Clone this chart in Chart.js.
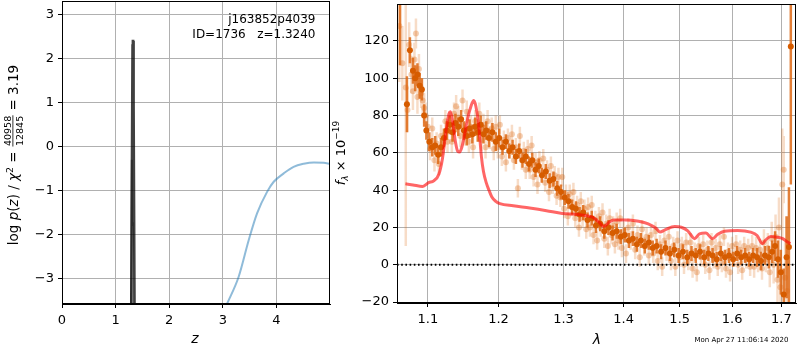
<!DOCTYPE html>
<html><head><meta charset="utf-8">
<script src="https://cdn.jsdelivr.net/npm/chart.js@4"></script>
<style>
html,body{margin:0;padding:0;background:#fff;}
#wrap{position:relative;width:800px;height:350px;overflow:hidden;background:#fff;}
#c1{position:absolute;left:0;top:0;}
#c2{position:absolute;left:330px;top:0;}
</style></head><body>
<div id="wrap"><canvas id="c1" width="340" height="350"></canvas><canvas id="c2" width="470" height="350"></canvas></div>
<script>
// ---------------- Left panel data: log p(z) ----------------
const zTicks = [0, 1, 2, 3, 4];
const pzTicks = [-3, -2, -1, 0, 1, 2, 3];
const pzDarkZ = [1.290, 1.315, 1.322, 1.328, 1.333, 1.340, 1.355];
const pzDarkV = [-4.0, 2.30, 2.40, 2.40, -1.80, 0.95, -4.0];
const pzGrayZ = [1.285, 1.300, 1.305, null, 1.318, 1.322, 1.326];
const pzGrayV = [-4.0, -0.30, -4.0, null, -4.0, -1.72, -4.0];
const chi2Z = [3.00, 3.078, 3.296, 3.483, 3.639, 3.826, 3.95, 4.137, 4.32, 4.51, 4.70, 4.88, 5.0];
const chi2V = [-3.80, -3.58, -2.96, -2.13, -1.52, -1.03, -0.80, -0.61, -0.46, -0.39, -0.36, -0.37, -0.39];

// ---------------- Right panel data: spectrum ----------------
const lamTicks = [1.1, 1.2, 1.3, 1.4, 1.5, 1.6, 1.7];
const fluxTicks = [-20, 0, 20, 40, 60, 80, 100, 120];
const lamMin = 1.059, lamMax = 1.731;

const darkLam = [1.063,1.072,1.076,1.080,1.083,1.086,1.089,1.092,1.095,1.098,1.102,1.106,1.110,1.114,1.118,1.122,1.126,1.130,1.134,1.138,
1.142,1.146,1.150,1.154,1.158,1.162,1.166,1.170,1.174,1.178,1.182,1.186,1.191,1.196,1.201,1.206,1.211,1.216,1.221,1.226,
1.231,1.236,1.241,1.246,1.251,1.256,1.261,1.266,1.272,1.278,1.284,1.290,1.296,1.302,1.308,1.314,1.320,1.326,1.332,1.339,
1.346,1.353,1.360,1.367,1.374,1.381,1.388,1.395,1.402,1.409,1.416,1.423,1.430,1.437,1.444,1.451,1.458,1.466,1.474,1.482,
1.490,1.498,1.506,1.514,1.522,1.530,1.538,1.546,1.554,1.562,1.570,1.578,1.586,1.594,1.602,1.610,1.618,1.626,1.634,1.642,
1.650,1.658,1.666,1.674,1.681,1.687,1.693,1.699,1.705,1.711,1.716,1.720];
const darkFlux = [150,86,115,104,100,102,96,94,80,72,66,63,64,59,63,68,72,75,71,76,
74,78,72,69,73,70,74,71,75,70,72,68,71,66,68,63,66,61,63,58,
61,56,58,54,56,51,53,48,50,45,46,41,39,36,34,31,30,27,28,24,
25,21,22,18,20,17,18,15,16,13,14,11,13,10,12,9,10,7,9,6,
8,5,7,4,6,5,7,4,6,5,3,6,4,5,3,6,4,5,3,5,
4,2,5,4,7,10,3,-4,-16,4,9.5,117];
const darkErr = [43,15,7,7,7,6,7,6,6,5,5,5,5,5,5,5,5,5,5,5,
5,5,5,5,5,5,5,5,5,5,5,5,5,5,5,4,4,4,4,4,
4,4,4,4,4,4,4,4,4,4,4,4,4,4,4,4,4,4,4,4,
4,4,4,4,4,4,4,4,4,4,4,4,4,4,4,4,4,4,4,4,
4,4,4,4,4,4,4,4,4,4,4,4,4,4,4,4,4,4,4,4,
5,5,5,6,6,8,10,12,14,22,32,74];

const faintLam = [1.062,1.066,1.0705,1.0728,1.075,1.078,1.080,1.082,1.084,1.086,1.088,1.091,1.093,1.095,1.097,
1.100,1.103,1.106,1.109,1.112,1.115,1.118,1.121,1.124,1.127,1.130,1.133,1.136,1.139,1.142,1.145,1.148,1.151,1.154,1.157,
1.160,1.163,1.166,1.169,1.172,1.175,1.178,1.181,1.184,1.187,1.190,1.193,1.196,1.199,1.202,1.205,1.208,1.211,1.214,1.217,
1.220,1.223,1.226,1.229,1.232,1.235,1.238,1.241,1.244,1.247,1.250,1.253,1.256,1.259,1.262,1.265,1.268,1.271,1.274,1.277,
1.280,1.283,1.286,1.289,1.292,1.295,1.298,1.301,1.304,1.307,1.310,1.313,1.316,1.319,1.322,1.325,1.328,1.331,1.334,1.337,
1.340,1.343,1.346,1.349,1.352,1.355,1.358,1.361,1.364,1.367,1.370,1.373,1.376,1.379,1.382,1.385,1.388,1.391,1.394,1.397,
1.400,1.404,1.408,1.412,1.416,1.420,1.424,1.428,1.432,1.436,1.440,1.444,1.448,1.452,1.456,1.460,1.464,1.468,1.472,1.476,
1.480,1.484,1.488,1.492,1.496,1.500,1.504,1.508,1.512,1.516,1.520,1.524,1.528,1.532,1.536,1.540,1.544,1.548,1.552,1.556,
1.560,1.564,1.568,1.572,1.576,1.580,1.584,1.588,1.592,1.596,1.600,1.604,1.608,1.612,1.616,1.620,1.624,1.628,1.632,1.636,
1.640,1.644,1.648,1.652,1.656,1.660,1.664,1.668,1.672,1.676,1.680,1.684,1.688,1.692,1.695,1.698,1.702,1.705,1.708,1.712];
const faintFlux = [128,108,95,83,118,102,93,110,124,90,105,92,88,84,80,
74,62,73,56,65,54,69,65,77,66,76,66,81,85,79,69,88,70,82,66,
74,63,77,72,81,67,75,63,77,68,73,62,74,63,75,58,67,55,68,62,
70,56,63,41,69,56,61,51,62,51,64,47,55,43,56,49,57,44,51,39,
53,43,48,37,47,36,47,30,38,26,38,31,39,25,32,20,34,25,30,19,
31,20,32,16,24,13,26,20,28,14,22,10,25,16,21,11,23,13,25,9,
18,6,20,13,22,8,16,4,19,10,15,5,16,6,18,2,11,-1,13,7,
15,2,10,-1,13,4,10,0,12,2,12,-2,7,-4,10,4,11,0,8,-3,
12,3,9,-1,11,1,15,-2,7,-4,10,4,11,0,8,-3,10,3,9,-1,
10,-1,9,2,8,-2,12,3,9,-4,14,0,15,-8,20,-12,43,51,-7,-14];
const faintErr = [30,20,85,12,12,10,10,9,8,9,8,8,8,8,7,
6,6,6,6,6,6,6,6,6,6,6,6,6,6,6,6,6,6,6,6,
6,6,6,6,6,6,6,6,6,6,6,6,6,6,5,5,5,5,5,5,
5,5,5,5,5,5,5,5,5,5,5,5,5,5,5,5,5,5,5,5,
5,5,5,5,5,5,5,5,5,5,5,5,5,5,5,5,5,5,5,5,
5,5,5,5,5,5,5,5,5,5,5,5,5,5,5,5,5,5,5,5,
5,5,5,5,5,5,5,5,5,5,5,5,5,5,5,5,5,5,5,5,
5,5,5,5,5,5,5,5,5,5,5,5,5,5,5,5,5,5,5,5,
5,5,5,5,5,5,5,5,5,5,5,5,5,5,5,5,5,5,5,5,
6,6,6,6,6,6,7,7,8,8,9,10,12,14,16,18,30,18,20,25];

const modelLam = [1.070,1.080,1.093,1.101,1.108,1.115,1.120,1.125,1.129,1.131,1.134,1.138,1.141,1.144,1.147,1.151,1.155,1.160,1.164,1.167,
1.171,1.175,1.178,1.182,1.186,1.190,1.196,1.202,1.222,1.247,1.273,1.298,1.325,1.342,1.350,1.358,1.366,1.375,1.383,1.403,
1.426,1.443,1.458,1.464,1.473,1.491,1.503,1.515,1.528,1.537,1.549,1.562,1.572,1.585,1.611,1.637,1.650,1.661,1.668,1.678,
1.692,1.703,1.713,1.719];
const modelFlux = [43.4,42.8,42.0,44.0,45.0,48.5,57,72,81,82,77,66,61,60.5,63,70,78,85,88,85,
75,58,50,44,40,36.5,34,32.8,31.6,30.4,29,27.5,26.9,26,25,22.8,20.5,22.8,24,24,
23.3,21.9,19.3,17.5,18.7,20.5,20.1,18.2,14,16.6,17,14,16.3,18,18.4,17.5,15.7,11.3,13.4,15.2,
14.8,14,12.2,11.3];

// ---------------- helpers ----------------
const FONT = '"DejaVu Sans", sans-serif';
function pts(xs, ys) { return xs.map((x, i) => (x === null ? {x: NaN, y: null} : {x: x, y: ys[i]})); }
function errSegs(xs, ys, es) {
  const out = [];
  xs.forEach((x, i) => { out.push({x: x, y: ys[i] - es[i]}); out.push({x: x, y: ys[i] + es[i]}); out.push({x: x, y: null}); });
  return out;
}
function fmtNum(v) { return v < 0 ? '\u2212' + Math.abs(v) : String(v); }
function fixAxisY(w) { return function (s) { s.width = w; s.paddingTop = 0; s.paddingBottom = 0; s.paddingLeft = 0; s.paddingRight = 0; }; }
function fixAxisX(h) { return function (s) { s.height = h; s.paddingTop = 0; s.paddingBottom = 0; s.paddingLeft = 0; s.paddingRight = 0; }; }
function setTicks(list) { return function (s) { s.ticks = list.map(v => ({value: v})); }; }

function drawRuns(ctx, runs, cx, cy, rotate) {
  ctx.save();
  ctx.translate(cx, cy);
  if (rotate) ctx.rotate(-Math.PI / 2);
  let total = 0;
  runs.forEach(r => {
    ctx.font = r.font;
    if (r.num !== undefined) r.w = Math.max(ctx.measureText(r.num).width, ctx.measureText(r.den).width) + 2;
    else r.w = ctx.measureText(r.t).width;
    total += r.w;
  });
  let x = -total / 2;
  const base = 4.5;
  ctx.fillStyle = '#000';
  ctx.textBaseline = 'alphabetic';
  runs.forEach(r => {
    ctx.font = r.font;
    if (r.num !== undefined) {
      ctx.textAlign = 'center';
      ctx.fillText(r.num, x + r.w / 2, base - 6.5);
      ctx.fillText(r.den, x + r.w / 2, base + 5.5);
      ctx.fillRect(x + 0.5, base - 5, r.w - 1, 0.8);
      ctx.textAlign = 'left';
    } else {
      ctx.textAlign = 'left';
      ctx.fillText(r.t, x, base + (r.dy || 0));
    }
    x += r.w;
  });
  ctx.restore();
}

const framePlugin = {
  id: 'frame',
  afterDraw(chart) {
    const a = chart.chartArea, ctx = chart.ctx;
    ctx.save();
    ctx.strokeStyle = '#000';
    ctx.lineWidth = 1;
    ctx.strokeRect(Math.round(a.left) + 0.5, Math.round(a.top) + 0.5, Math.round(a.right - a.left) - 1, Math.round(a.bottom - a.top) - 1);
    ctx.restore();
  }
};

const gridOpts = {color: '#b0b0b0', lineWidth: 1, tickLength: 4, tickColor: '#000', tickWidth: 1, drawTicks: true};
const tickFont = {family: FONT, size: 13};

// ---------------- Left chart ----------------
const leftLabels = {
  id: 'leftLabels',
  afterDraw(chart) {
    const ctx = chart.ctx;
    ctx.save();
    ctx.fillStyle = '#000';
    ctx.font = '12px ' + FONT;
    ctx.textAlign = 'right';
    ctx.textBaseline = 'middle';
    ctx.fillText('j163852p4039', 315.5, 20);
    ctx.fillText('ID=1736   z=1.3240', 315.5, 35);
    ctx.textAlign = 'center';
    ctx.font = 'italic 14px ' + FONT;
    ctx.fillText('z', 195, 339);
    ctx.restore();
    const R = '13.5px ' + FONT, I = 'italic 13.5px ' + FONT, S = '9.5px ' + FONT;
    drawRuns(ctx, [
      {t: 'log ', font: R}, {t: 'p', font: I}, {t: '(', font: R}, {t: 'z', font: I}, {t: ') / ', font: R},
      {t: '\u03c7', font: I}, {t: '2', font: S, dy: -5}, {t: ' = ', font: R},
      {num: '40958', den: '12845', font: S}, {t: ' = 3.19', font: R}
    ], 13, 155, true);
  }
};

new Chart(document.getElementById('c1'), {
  type: 'scatter',
  data: {
    datasets: [
      {data: pts(pzDarkZ, pzDarkV), showLine: true, borderColor: 'rgba(0,0,0,0.75)', borderWidth: 2.5, pointRadius: 0, spanGaps: false, order: 1, clip: 0},
      {data: pts(pzGrayZ, pzGrayV), showLine: true, borderColor: 'rgba(0,0,0,0.3)', borderWidth: 2, pointRadius: 0, spanGaps: false, order: 2, clip: 0},
      {data: pts(chi2Z, chi2V), showLine: true, borderColor: 'rgba(31,119,180,0.5)', borderWidth: 2, pointRadius: 0, tension: 0.4, cubicInterpolationMode: 'monotone', order: 3, clip: 0}
    ]
  },
  options: {
    responsive: false, animation: false, devicePixelRatio: 1,
    layout: {padding: {left: 0, right: 10, top: 1, bottom: 0}},
    plugins: {legend: {display: false}, tooltip: {enabled: false}},
    events: [],
    scales: {
      x: {type: 'linear', min: 0, max: 5.0, grid: gridOpts, border: {display: true, color: '#000', width: 1},
          ticks: {font: tickFont, color: '#000', padding: 5, maxRotation: 0, callback: v => fmtNum(v)},
          afterBuildTicks: setTicks(zTicks), afterFit: fixAxisX(46)},
      y: {type: 'linear', min: -3.58, max: 3.31, grid: gridOpts, border: {display: true, color: '#000', width: 1},
          ticks: {font: tickFont, color: '#000', padding: 4, callback: v => fmtNum(v)},
          afterBuildTicks: setTicks(pzTicks), afterFit: fixAxisY(62)}
    }
  },
  plugins: [framePlugin, leftLabels]
});

// ---------------- Right chart ----------------
const rightLabels = {
  id: 'rightLabels',
  afterDraw(chart) {
    const ctx = chart.ctx;
    ctx.save();
    ctx.fillStyle = '#000';
    ctx.textAlign = 'center';
    ctx.textBaseline = 'middle';
    ctx.font = 'italic 14px ' + FONT;
    ctx.fillText('\u03bb', 597 - 330, 340);
    ctx.font = '7px ' + FONT;
    ctx.fillText('Mon Apr 27 11:06:14 2020', 741.5 - 330, 340);
    ctx.restore();
    const R = '13px ' + FONT, I = 'italic 13px ' + FONT, S = '9px ' + FONT, SI = 'italic 9px ' + FONT;
    drawRuns(ctx, [
      {t: 'f', font: I}, {t: '\u03bb', font: SI, dy: 3}, {t: ' \u00d7 10', font: R}, {t: '\u221219', font: S, dy: -6}
    ], 340 - 330, 153, true);
  }
};

new Chart(document.getElementById('c2'), {
  type: 'scatter',
  data: {
    datasets: [
      {data: errSegs(faintLam, faintFlux, faintErr), showLine: true, borderColor: 'rgba(217,95,2,0.22)', borderWidth: 2.5, pointRadius: 0, spanGaps: false, order: 6, clip: 0},
      {data: pts(faintLam, faintFlux), showLine: false, backgroundColor: 'rgba(217,95,2,0.3)', borderWidth: 0, pointRadius: 3, order: 5, clip: 0},
      {data: errSegs(darkLam, darkFlux, darkErr), showLine: true, borderColor: 'rgba(222,105,20,0.85)', borderWidth: 2.5, pointRadius: 0, spanGaps: false, order: 4, clip: 0},
      {data: pts(darkLam, darkFlux), showLine: false, backgroundColor: 'rgb(214,92,0)', borderWidth: 0, pointRadius: 3, order: 3, clip: 0},
      {data: pts(modelLam, modelFlux), showLine: true, borderColor: 'rgba(255,0,0,0.6)', borderWidth: 3, pointRadius: 0, tension: 0.4, cubicInterpolationMode: 'monotone', order: 2, clip: 0},
      {data: pts([lamMin, lamMax], [0, 0]), showLine: true, borderColor: '#000', borderWidth: 1.8, borderDash: [1.6, 2.6], pointRadius: 0, order: 1, clip: 0}
    ]
  },
  options: {
    responsive: false, animation: false, devicePixelRatio: 1,
    layout: {padding: {left: 0, right: 1, top: 1, bottom: 0}},
    plugins: {legend: {display: false}, tooltip: {enabled: false}},
    events: [],
    scales: {
      x: {type: 'logarithmic', min: lamMin, max: lamMax, grid: gridOpts, border: {display: true, color: '#000', width: 1},
          ticks: {font: tickFont, color: '#000', padding: 5, maxRotation: 0, autoSkip: false, callback: v => Number(v).toFixed(1)},
          afterBuildTicks: setTicks(lamTicks), afterFit: fixAxisX(47)},
      y: {type: 'linear', min: -20.5, max: 139.8, grid: gridOpts, border: {display: true, color: '#000', width: 1},
          ticks: {font: tickFont, color: '#000', padding: 4, callback: v => fmtNum(v)},
          afterBuildTicks: setTicks(fluxTicks), afterFit: fixAxisY(67)}
    }
  },
  plugins: [framePlugin, rightLabels]
});
</script>
</body></html>
